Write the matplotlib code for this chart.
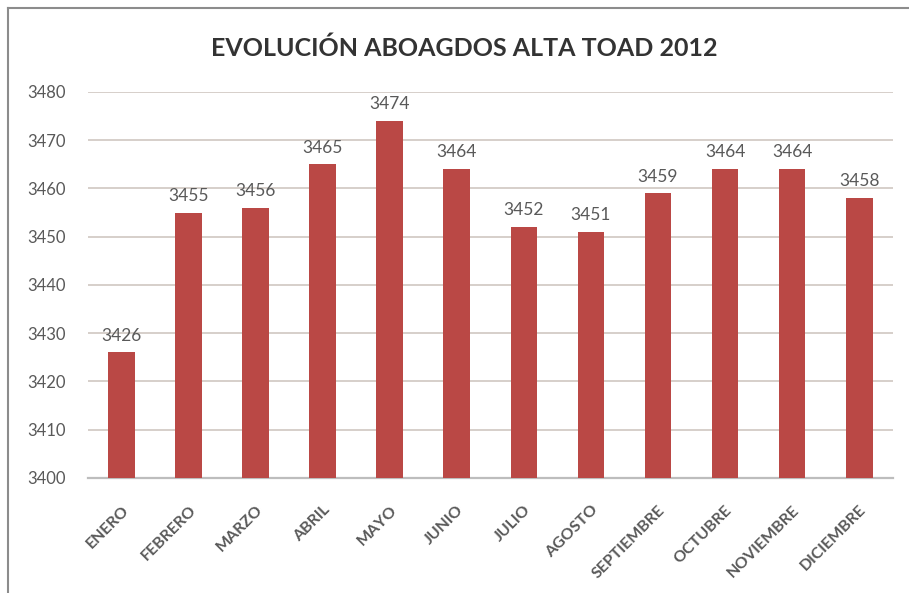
import matplotlib
matplotlib.use("Agg")
import matplotlib.pyplot as plt
from matplotlib.lines import Line2D

# data
meses = ["ENERO", "FEBRERO", "MARZO", "ABRIL", "MAYO", "JUNIO", "JULIO",
         "AGOSTO", "SEPTIEMBRE", "OCTUBRE", "NOVIEMBRE", "DICIEMBRE"]
abogados = [3426, 3455, 3456, 3465, 3474, 3464, 3452, 3451, 3459, 3464, 3464, 3458]
y_ticks = [3400, 3410, 3420, 3430, 3440, 3450, 3460, 3470, 3480]

plt.rcParams['font.family'] = ['Lato', 'DejaVu Sans']

fig = plt.figure(figsize=(9.09, 5.93), dpi=100)
ax = fig.add_axes([0.097, 0.194, 0.885, 0.651])

x = list(range(len(meses)))
ax.bar(x, [v - 3400 for v in abogados], bottom=3400, width=0.40,
       color="#BA4845", zorder=3)

# etiquetas de datos
for xi, v in zip(x, abogados):
    ax.text(xi, v + 1.8, str(v), ha="center", va="bottom",
            fontsize=12.5, color="#595959", zorder=4)

ax.set_xlim(-0.5, len(meses) - 0.5)
ax.set_ylim(3400, 3480)
ax.set_yticks(y_ticks)
ax.set_yticklabels([str(t) for t in y_ticks], fontsize=12, color="#595959")
ax.set_xticks(x)
ax.set_xticklabels(meses, rotation=45, ha="right", rotation_mode="anchor",
                   fontsize=11.5, color="#595959", fontweight="bold")
ax.tick_params(axis="y", length=0, pad=16)
ax.tick_params(axis="x", length=0, pad=18)

ax.grid(axis="y", color="#D3CBC6", linewidth=1.3, zorder=0)
for s in ["top", "right", "left"]:
    ax.spines[s].set_visible(False)
ax.spines["bottom"].set_color("#BDBDBD")
ax.spines["bottom"].set_linewidth(1.6)

fig.text(0.511, 0.918, "EVOLUCIÓN ABOAGDOS ALTA TOAD 2012", ha="center",
         va="center", fontsize=18, fontweight="bold", color="#333333")

# marco del gráfico
fig.add_artist(Line2D([0.009, 0.009], [0.0, 0.986], transform=fig.transFigure,
                      color="#8C8C8C", linewidth=1.5))
fig.add_artist(Line2D([0.009, 1.0], [0.986, 0.986], transform=fig.transFigure,
                      color="#8C8C8C", linewidth=1.5))

fig.savefig("out.png", dpi=100)
